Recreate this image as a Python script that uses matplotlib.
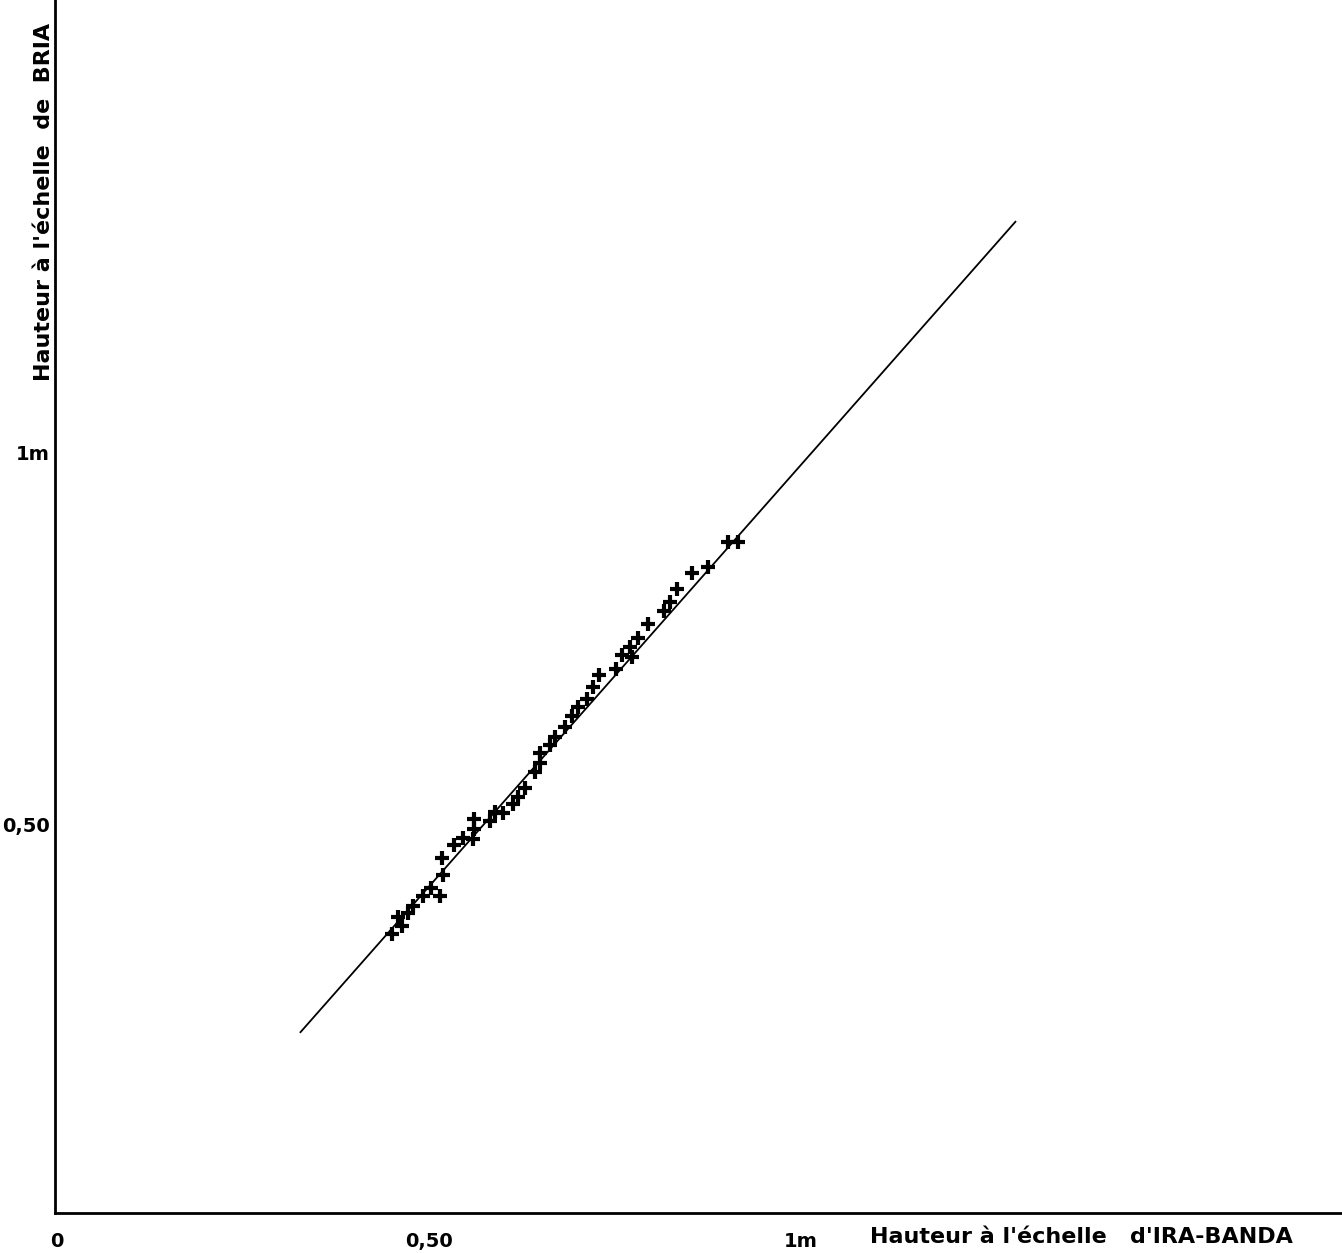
import matplotlib
matplotlib.use("Agg")
import matplotlib.pyplot as plt

# Hauteurs lues (m) : IRA-BANDA en x, BRIA en y
ira_banda = [0.450, 0.464, 0.458, 0.472, 0.478, 0.492, 0.503, 0.515, 0.519, 0.517,
             0.534, 0.546, 0.559, 0.560, 0.560, 0.582, 0.589, 0.599, 0.612, 0.620,
             0.629, 0.642, 0.649, 0.649, 0.663, 0.669, 0.683, 0.692, 0.700, 0.712,
             0.720, 0.728, 0.751, 0.759, 0.773, 0.770, 0.781, 0.794, 0.815, 0.824,
             0.833, 0.853, 0.875, 0.901, 0.915]
bria = [0.356, 0.366, 0.379, 0.384, 0.394, 0.407, 0.418, 0.407, 0.435, 0.458,
        0.476, 0.485, 0.483, 0.497, 0.511, 0.508, 0.520, 0.519, 0.530, 0.540,
        0.552, 0.574, 0.586, 0.599, 0.610, 0.620, 0.634, 0.649, 0.661, 0.672,
        0.688, 0.704, 0.712, 0.731, 0.728, 0.742, 0.753, 0.772, 0.790, 0.802,
        0.820, 0.841, 0.849, 0.883, 0.883]

# droite d'ajustement
droite_x = [0.327, 1.288]
droite_y = [0.224, 1.313]

x_ticks = [0, 0.5, 1.0]
x_tick_labels = ["0", "0,50", "1m"]
y_ticks = [0.5, 1.0]
y_tick_labels = ["0,50", "1m"]

fig = plt.figure(figsize=(13.42, 12.53), dpi=100)
ax = fig.add_axes([55 / 1342, 40 / 1253, 1 - 55 / 1342, 1 - 40 / 1253])
ax.set_xlim(-0.003, 1.727)
ax.set_ylim(-0.019, 1.611)

ax.plot(droite_x, droite_y, color="black", linewidth=1.3)
ax.plot(ira_banda, bria, linestyle="none", marker="+", markersize=10,
        markeredgewidth=3, color="black")

for s in ["top", "right"]:
    ax.spines[s].set_visible(False)
for s in ["left", "bottom"]:
    ax.spines[s].set_linewidth(2)
ax.set_xticks([])
ax.set_yticks([])

font = dict(family="DejaVu Sans", fontweight="bold", fontsize=14, color="black")
titre = dict(font, fontsize=16)

# etiquettes des graduations
for v, lab in zip(x_ticks, x_tick_labels):
    ax.annotate(lab, xy=(v, 0), xycoords=("data", "axes fraction"),
                xytext=(0, -14), textcoords="offset points",
                ha="center", va="top", annotation_clip=False, **font)
for v, lab in zip(y_ticks, y_tick_labels):
    ax.annotate(lab, xy=(0, v), xycoords=("axes fraction", "data"),
                xytext=(-4, 0), textcoords="offset points",
                ha="right", va="center", annotation_clip=False, **font)

fig.text(870 / 1342, 1 - 1237 / 1253, "Hauteur à l'échelle   d'IRA-BANDA",
         ha="left", va="center", **titre)
fig.text(44 / 1342, 1 - 202 / 1253, "Hauteur à l'échelle  de  BRIA",
         rotation=90, ha="center", va="center", **titre)

fig.savefig("out.png", dpi=100, facecolor="white")
